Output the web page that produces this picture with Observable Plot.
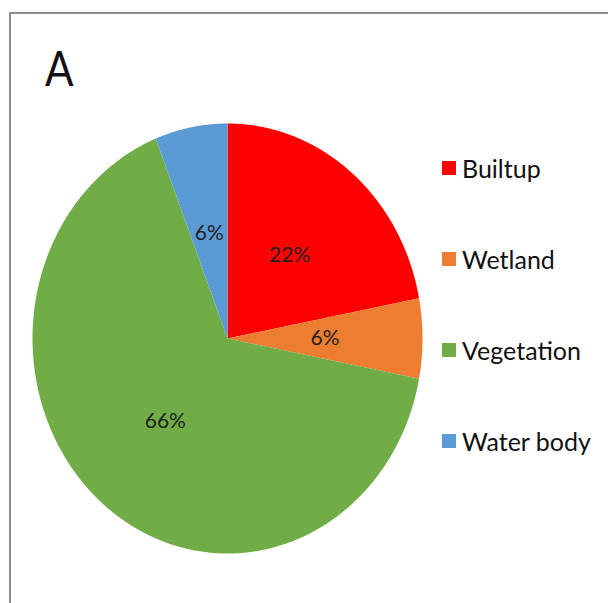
<!DOCTYPE html>
<html>
<head>
<meta charset="utf-8">
<script src="https://cdn.jsdelivr.net/npm/d3@7"></script>
<script src="https://cdn.jsdelivr.net/npm/@observablehq/plot@0.6"></script>
<style>
  html, body { margin: 0; padding: 0; background: #fff; }
  #root { position: relative; width: 608px; height: 603px; overflow: hidden; font-family: "Lato", "Open Sans", sans-serif; }
  #frame { position: absolute; left: 9px; top: 12px; width: 620px; height: 620px;
           border-top: 2px solid #8f8f8f; border-left: 2px solid #8f8f8f; box-sizing: border-box; }
  #chart { position: absolute; left: 0; top: 0; }
  #tag { position: absolute; left: 45px; top: 43px; font-size: 49px; line-height: 1; color: #111;
         transform: scaleX(0.86); transform-origin: left top; }
  #legend { position: absolute; left: 442px; top: 153px; }
  .lg-swatches { font-family: "Lato", sans-serif !important; font-size: 25px !important; color: #111; }
  .lg-swatch { display: flex !important; align-items: center !important; height: 30px; margin: 0 0 61px 0 !important; padding: 0 !important; }
  .lg-swatch svg { margin-right: 6px !important; }
</style>
</head>
<body>
<div id="root">
  <div id="frame"></div>
  <div id="chart"></div>
  <div id="tag">A</div>
  <div id="legend"></div>
</div>
<script>
// Land cover shares (percent), drawn clockwise from 12 o'clock
const categories = ["Builtup", "Wetland", "Vegetation", "Water body"];
const shares = [22, 6, 66, 6];
const colors = ["#ff0000", "#ed7d31", "#70ad47", "#5b9bd5"];

const rows = categories.map((name, i) => ({name, value: shares[i]}));
const arcs = d3.pie().sort(null).value(d => d.value)(rows);

// Outline of each slice as a closed polygon in unit coordinates (y up)
const outline = [];
for (const a of arcs) {
  const name = a.data.name;
  outline.push({name, x: 0, y: 0});
  const steps = Math.max(2, Math.ceil((a.endAngle - a.startAngle) / (Math.PI / 360)));
  for (let k = 0; k <= steps; ++k) {
    const t = a.startAngle + (a.endAngle - a.startAngle) * k / steps;
    outline.push({name, x: Math.sin(t), y: Math.cos(t)});
  }
}

// Percentage labels halfway out along each slice's middle angle
const labels = arcs.map(a => {
  const m = (a.startAngle + a.endAngle) / 2;
  return {text: `${a.data.value}%`, x: 0.5 * Math.sin(m), y: 0.5 * Math.cos(m)};
});

const color = {domain: categories, range: colors};

const chart = Plot.plot({
  width: 608,
  height: 603,
  x: {domain: [-1, 1], range: [32, 422], axis: null},
  y: {domain: [-1, 1], range: [553, 123], axis: null},
  color,
  style: {background: "transparent", overflow: "visible"},
  marks: [
    Plot.line(outline, {x: "x", y: "y", z: "name", fill: "name", stroke: "none"}),
    Plot.text(labels, {x: "x", y: "y", text: "text", fontSize: 21, fill: "#1f1f1f",
                       fontFamily: "Lato, sans-serif"})
  ]
});
document.getElementById("chart").append(chart);

const legend = Plot.legend({
  legend: "swatches",
  color,
  columns: 1,
  swatchSize: 14,
  className: "lg"
});
document.getElementById("legend").append(legend);
</script>
</body>
</html>
